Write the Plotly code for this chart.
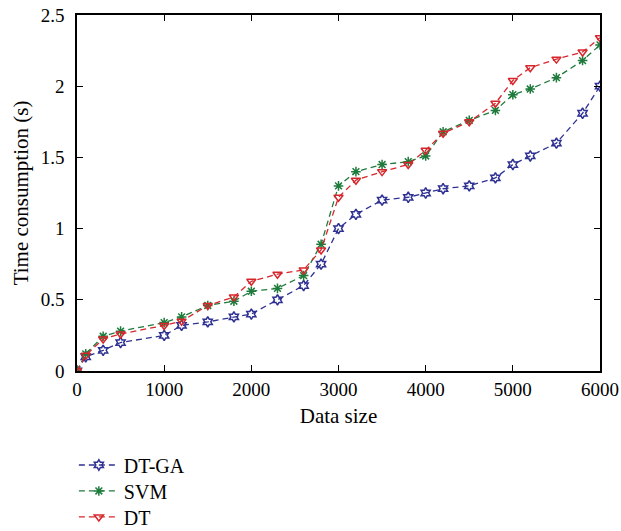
import plotly.graph_objects as go

data_size = [0, 100, 300, 500, 1000, 1200, 1500, 1800, 2000, 2300, 2600, 2800, 3000,
             3200, 3500, 3800, 4000, 4200, 4500, 4800, 5000, 5200, 5500, 5800, 6000]
dt_ga = [0, 0.10, 0.145, 0.20, 0.25, 0.32, 0.345, 0.38, 0.40, 0.50, 0.60, 0.75, 1.00,
         1.10, 1.20, 1.22, 1.25, 1.28, 1.30, 1.356, 1.45, 1.51, 1.60, 1.81, 2.00]
svm = [0, 0.12, 0.244, 0.28, 0.34, 0.38, 0.46, 0.49, 0.56, 0.58, 0.67, 0.89, 1.30,
       1.40, 1.45, 1.47, 1.51, 1.68, 1.76, 1.83, 1.94, 1.98, 2.06, 2.18, 2.29]
dt = [0, 0.11, 0.225, 0.26, 0.32, 0.35, 0.46, 0.52, 0.63, 0.68, 0.71, 0.85, 1.22,
      1.34, 1.40, 1.45, 1.55, 1.67, 1.75, 1.88, 2.04, 2.13, 2.19, 2.24, 2.34]

x_ticks = [0, 1000, 2000, 3000, 4000, 5000, 6000]
y_ticks = [0, 0.5, 1, 1.5, 2, 2.5]
y_tick_labels = ["0", "0.5", "1", "1.5", "2", "2.5"]

series = [
    ("DT-GA", dt_ga, "#2e3192", "hexagram-open", "legend", -0.2640),
    ("SVM", svm, "#1e7b3c", "asterisk-open", "legend2", -0.3370),
    ("DT", dt, "#d7262b", "triangle-down-open", "legend3", -0.4100),
]

font_family = "Liberation Serif, Times New Roman, serif"

fig = go.Figure()
legend_layouts = {}
for name, vals, color, symbol, leg, ypos in series:
    fig.add_trace(go.Scatter(
        x=data_size, y=vals, name=name, mode="lines+markers", legend=leg,
        line=dict(color=color, width=1.3, dash="6px,4px"),
        marker=dict(symbol=symbol, size=8, color=color, line=dict(color=color, width=1.5)),
    ))
    legend_layouts[leg] = dict(
        x=-0.006, y=ypos, xanchor="left", yanchor="middle",
        font=dict(family=font_family, size=20, color="black"),
        bgcolor="rgba(0,0,0,0)", itemwidth=40,
    )

fig.update_layout(
    width=621, height=531,
    margin=dict(l=77, r=21, t=15, b=160, autoexpand=False),
    plot_bgcolor="white", paper_bgcolor="white",
    font=dict(family=font_family, size=20, color="black"),
    showlegend=True,
    xaxis=dict(
        range=[0, 6000], tickvals=x_ticks, ticks="inside", ticklen=6, tickwidth=1.2,
        tickcolor="black", showline=True, linecolor="black", linewidth=1.5, mirror="ticks",
        showgrid=False, zeroline=False, automargin=False, ticklabelstandoff=0,
        ticklabeloverflow="allow",
        title=dict(text="Data size", font=dict(family=font_family, size=21), standoff=10),
        tickfont=dict(family=font_family, size=19),
    ),
    yaxis=dict(
        range=[0, 2.5], tickvals=y_ticks, ticktext=y_tick_labels, ticks="inside", ticklen=6,
        tickwidth=1.2, tickcolor="black", showline=True, linecolor="black", linewidth=1.5,
        mirror="ticks", showgrid=False, zeroline=False, automargin=False, ticklabelstandoff=7,
        ticklabeloverflow="allow",
        title=dict(text="Time consumption (s)", font=dict(family=font_family, size=21), standoff=6),
        tickfont=dict(family=font_family, size=19),
    ),
    **legend_layouts,
)

fig.write_html(
    "out.html",
    config={"displayModeBar": False},
    post_script="document.body.style.margin='0px';document.body.style.overflow='hidden';",
)
